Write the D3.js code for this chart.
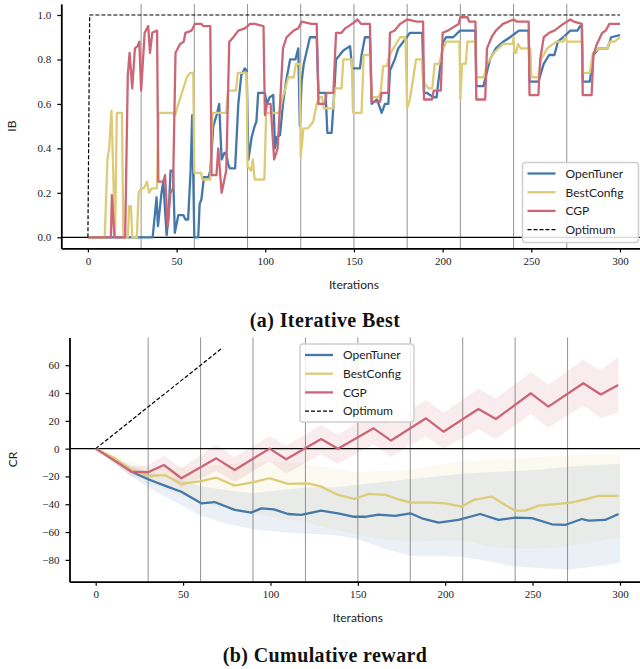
<!doctype html>
<html>
<head>
<meta charset="utf-8">
<title>Iterative Best / Cumulative reward</title>
<script src="https://cdn.jsdelivr.net/npm/d3@7"></script>
<style>
body{margin:0;background:#fff;}
svg{display:block;}
.tick text{font-family:"Liberation Serif",serif;font-size:11px;fill:#222;}
.lab{font-family:Lato,"Noto Sans",sans-serif;font-size:12px;fill:#222;}
.leg{font-family:Lato,"Noto Sans",sans-serif;font-size:12px;fill:#222;}
.title{font-family:"Liberation Serif",serif;font-weight:bold;font-size:20px;letter-spacing:0.4px;fill:#111;}
</style>
</head>
<body>
<script>
// --- data ---
var names = ['OpenTuner', 'BestConfig', 'CGP', 'Optimum'];
var colors = ['#4477aa', '#ddcc77', '#cc6677'];
var xTicks = [0, 50, 100, 150, 200, 250, 300];
var ibTicks = [0, 0.2, 0.4, 0.6, 0.8, 1.0];
var crTicks = [-80, -60, -40, -20, 0, 20, 40, 60];
var changeIters = [30, 60, 90, 120, 150, 180, 210, 240, 270];

// (a) iterative best, [iteration, IB]
var ibOpenTuner = [[0,0],[36.5,0],[38.7,0.18],[39.5,0.05],[41.5,0.2],[42.5,0.25],[44.4,0.01],[45.5,0.1],[46.6,0.3],[48,0.3],[49,0.02],[51,0.1],[53.8,0.1],[55,0.08],[56.5,0.08],[57.9,0.3],[58.8,0.55],[60,0],[62.2,0],[63,0.15],[64,0.17],[65.4,0.27],[68,0.27],[69,0.3],[70.7,0.5],[72.6,0.55],[74,0.6],[75.4,0.35],[77,0.38],[78,0.38],[79,0.33],[80,0.31],[83,0.31],[84.8,0.6],[86.5,0.73],[88.5,0.76],[89.5,0.75],[90.5,0.35],[92.3,0.45],[94,0.5],[95,0.52],[96,0.65],[99.8,0.65],[100.8,0.6],[102.5,0.63],[104.5,0.64],[105.5,0.4],[106.5,0.45],[108.3,0.46],[110,0.6],[111.7,0.7],[114,0.8],[117,0.8],[118.6,0.85],[119.5,0.5],[120.5,0.7],[121.7,0.78],[125.2,0.9],[129,0.9],[130,0.65],[134,0.65],[135,0.47],[137.4,0.47],[138.5,0.6],[139.9,0.8],[142,0.82],[144,0.84],[147.8,0.86],[149,0.76],[153.4,0.76],[154.3,0.82],[156.2,0.9],[159,0.9],[160,0.6],[163,0.62],[165.6,0.56],[167.5,0.6],[169.4,0.6],[170.3,0.75],[173,0.8],[175,0.85],[179.7,0.9],[181.6,0.92],[188.5,0.92],[189.5,0.65],[191,0.65],[194.8,0.63],[196.6,0.63],[197.6,0.7],[200.4,0.88],[202,0.9],[206,0.9],[209.8,0.93],[218.5,0.93],[219,0.68],[223,0.68],[226.7,0.8],[230,0.85],[234.2,0.88],[238,0.9],[243,0.93],[248.5,0.93],[249,0.7],[254,0.7],[257,0.78],[260,0.82],[263,0.82],[265,0.88],[268,0.9],[272,0.93],[276,0.93],[277.5,0.95],[278.5,0.95],[279,0.7],[283,0.7],[285,0.82],[288,0.85],[293,0.85],[295,0.9],[300,0.91]];
var ibBestConfig = [[0,0],[9.5,0],[11,0.35],[12,0.4],[13.3,0.57],[15.3,0],[16.3,0.56],[19.2,0.56],[20,0],[22.5,0],[23.3,0.14],[24.3,0.14],[25,0],[27.6,0],[28.6,0.2],[30,0.22],[31.5,0.22],[33.3,0.25],[34.5,0.2],[36,0.22],[38.9,0.22],[39.8,0.56],[47.4,0.56],[49.2,0.55],[51,0.6],[53,0.65],[55.8,0.72],[57.7,0.74],[59.4,0.74],[60,0.29],[63.8,0.29],[64.5,0.26],[69,0.26],[70.3,0.56],[78,0.56],[79,0.66],[83.5,0.66],[84.5,0.74],[89.5,0.74],[90,0.32],[92,0.3],[93,0.35],[94,0.26],[99.5,0.26],[100.5,0.56],[108,0.56],[109.8,0.63],[111,0.66],[113,0.72],[116,0.72],[117.3,0.78],[119.5,0.78],[120,0.36],[121.5,0.49],[124,0.49],[127,0.52],[129,0.6],[130.5,0.63],[132,0.63],[133,0.58],[138.3,0.58],[139.3,0.67],[143,0.67],[144,0.8],[148.7,0.8],[149.5,0.56],[154.3,0.56],[155.5,0.82],[159,0.82],[160,0.63],[163.7,0.63],[165,0.65],[166.5,0.77],[168.5,0.77],[170,0.82],[173,0.86],[176,0.9],[179,0.9],[180,0.58],[181.5,0.62],[183.5,0.72],[185,0.8],[188.2,0.8],[189,0.7],[192,0.67],[194.2,0.67],[195.5,0.78],[198,0.78],[200,0.84],[202,0.88],[209.5,0.88],[210,0.62],[211,0.78],[213,0.78],[214,0.88],[218.5,0.88],[219,0.72],[223.3,0.72],[225,0.78],[229,0.83],[234,0.87],[239.5,0.87],[240,0.9],[240.5,0.83],[241.5,0.83],[242.5,0.87],[244,0.85],[249.5,0.85],[250,0.72],[254,0.72],[255.5,0.8],[259,0.85],[264,0.88],[268,0.88],[269,0.9],[270,0.88],[278.5,0.88],[279,0.74],[283,0.74],[284.8,0.83],[288,0.85],[293,0.85],[294,0.88],[297,0.88],[300,0.9]];
var ibCGP = [[0,0],[13,0],[13.5,0.19],[15,0],[21,0],[22.5,0.73],[23.5,0.83],[25,0.67],[26.5,0.85],[28,0.86],[29,0.88],[30,0.66],[32,0.92],[34,0.95],[35,0.83],[36.3,0.92],[39,0.93],[39.7,0.25],[42.5,0.25],[43.5,0.28],[45,0.05],[46.5,0.2],[48,0.22],[49.4,0.83],[52,0.87],[54,0.88],[55,0.92],[58.5,0.93],[60.3,0.96],[64,0.96],[65,0.95],[69,0.95],[69.7,0.28],[72.5,0.28],[73.5,0.4],[75.4,0.2],[78,0.3],[79.7,0.88],[82,0.9],[84.8,0.93],[88.5,0.94],[91.4,0.96],[94,0.96],[99,0.95],[99.8,0.55],[101,0.6],[103,0.6],[105,0.35],[107,0.4],[110,0.85],[112,0.9],[116,0.93],[118.6,0.94],[120.5,0.97],[126,0.96],[129,0.96],[130,0.6],[133.7,0.6],[134.5,0.65],[138.4,0.65],[139.9,0.92],[143,0.92],[145,0.94],[147,0.95],[150.6,0.97],[152,0.98],[154,0.96],[159,0.96],[160,0.61],[164.7,0.61],[165.6,0.65],[169.4,0.65],[170.3,0.92],[173,0.93],[176,0.96],[180,0.98],[185.3,0.97],[189,0.97],[189.5,0.62],[194,0.62],[195,0.66],[199,0.66],[200,0.92],[203,0.93],[205,0.94],[209,0.96],[210,0.99],[214,0.99],[215,0.97],[218.5,0.97],[219,0.62],[224,0.62],[225,0.85],[227.6,0.9],[230,0.93],[234,0.96],[240,0.98],[242,0.97],[248.5,0.97],[249,0.64],[254,0.64],[255,0.8],[257,0.9],[260,0.92],[263,0.93],[268,0.96],[272,0.98],[274,0.97],[278.5,0.96],[279,0.64],[284,0.64],[285,0.82],[287,0.87],[290,0.92],[292,0.93],[294,0.96],[300,0.96]];
var ibOptimum = [[0,0],[1,1],[300,1]];

// (b) cumulative reward, mean [iteration, CR]
var crOpenTuner = [[0,0],[10.9,-8.1],[20.4,-16.5],[30,-22],[41,-27.3],[49,-31],[60.4,-39.3],[68,-38.4],[79.5,-44],[89,-46],[94.7,-43],[102,-43.7],[110,-47],[117.6,-47.7],[129,-44.6],[138.6,-46.5],[148,-49],[154,-49],[161.9,-47.5],[171.4,-48.4],[180,-46.5],[186.6,-50.1],[196.2,-53.2],[207.6,-51.3],[220,-47],[230.5,-51.3],[240,-49.6],[249.6,-50],[261,-54.4],[268.6,-54.9],[278.2,-50.6],[282,-51.8],[291.5,-51.3],[299.2,-47]];
var crBestConfig = [[0,0],[10.9,-7],[20.4,-15.3],[30,-19.7],[39.5,-19],[49,-25.4],[60.4,-23.3],[69,-20.9],[79.5,-26.6],[89,-24.5],[99.5,-21.3],[110,-25.4],[121.5,-25],[129,-27.3],[138.6,-33.3],[148,-36.2],[156,-32.6],[165.7,-33.3],[171.4,-35.7],[180,-38.8],[192.4,-38.8],[200,-39.3],[209.5,-41.7],[216.2,-36.9],[226.7,-34.5],[234.3,-40.5],[240,-44.6],[245.8,-44.6],[253.4,-41],[264.8,-39.8],[272.5,-38.6],[280,-36.5],[287.7,-34],[299.2,-34]];
var crCGP = [[0,0],[10,-8],[20.4,-16.5],[30,-17],[39,-11.8],[49,-21.3],[69,-7],[79.5,-15.3],[99.5,0],[109,-7.7],[129,7],[138.6,0],[159,14.6],[169,5.8],[189,21.8],[199,12.2],[219,28.5],[229,21.3],[249,39.8],[259,30.2],[279,47],[289,39],[299,45.8]];
var crOptimum = [[0,0],[72,72]];

// (b) shaded spread, [iteration, low, high]
var bandOpenTuner = [[0,0,0],[15,-15,-9],[30,-28,-17],[45,-38,-21],[60,-48,-27],[75,-54,-30],[90,-58,-32],[105,-60,-30],[120,-61,-28],[135,-62,-28],[150,-65,-26],[165,-72,-24],[180,-77,-22],[195,-77,-20],[210,-78,-18],[225,-81,-17],[240,-85,-16],[255,-86,-15],[270,-87,-13],[285,-85,-12],[300,-82,-11]];
var bandBestConfig = [[0,0,0],[15,-13,-6],[30,-25,-14],[45,-32,-14],[60,-38,-13],[75,-43,-11],[90,-46,-10],[105,-50,-9],[120,-53,-11],[135,-58,-14],[150,-62,-17],[165,-65,-16],[180,-67,-15],[195,-66,-12],[210,-66,-9],[225,-70,-8],[240,-72,-7],[255,-72,-6],[270,-70,-5],[285,-67,-4],[300,-64,-4]];
var bandCGP = [[0,0,0],[10,-10,-6],[20.4,-20,-13],[30,-22,-12],[39,-18,-5],[49,-28,-14],[69,-16,3],[79.5,-24,-6],[99.5,-9,9],[109,-18,2],[129,-4,17],[138.6,-11,10],[159,3,26],[169,-6,18],[189,9,35],[199,0,26],[219,14,43],[229,7,36],[249,25,55],[259,15,46],[279,31,64],[289,22,56],[299,26,66]];

var W = 640, H = 669;
var svg = d3.select('body').append('svg')
    .attr('width', W)
    .attr('height', H);

function drawPanel(cfg){
    var x = d3.scaleLinear().domain([-15, 315]).range([cfg.left, cfg.right]);
    var y = d3.scaleLinear().domain(cfg.yDomain).range([cfg.bottom, cfg.top]);
    var g = svg.append('g');

    // spread bands
    (cfg.bands || []).forEach(function(b, i){
        g.append('path')
            .datum(b)
            .attr('d', d3.area()
                .x(function(d){ return x(d[0]); })
                .y0(function(d){ return y(d[1]); })
                .y1(function(d){ return y(d[2]); }))
            .attr('fill', colors[i])
            .attr('fill-opacity', i == 2 ? 0.12 : 0.11);
    });

    // regime changes
    g.selectAll('line.chg').data(changeIters).enter().append('line')
        .attr('class', 'chg')
        .attr('x1', function(d){ return x(d); })
        .attr('x2', function(d){ return x(d); })
        .attr('y1', cfg.top).attr('y2', cfg.bottom)
        .attr('stroke', '#707070').attr('stroke-opacity', 0.75).attr('stroke-width', 1);

    g.append('line')
        .attr('x1', cfg.left).attr('x2', cfg.right)
        .attr('y1', y(0)).attr('y2', y(0))
        .attr('stroke', '#000').attr('stroke-width', 1.2);

    var line = d3.line()
        .x(function(d){ return x(d[0]); })
        .y(function(d){ return y(d[1]); });

    cfg.series.forEach(function(s, i){
        g.append('path')
            .datum(s)
            .attr('d', line)
            .attr('fill', 'none')
            .attr('stroke', colors[i])
            .attr('stroke-width', 2.3)
            .attr('stroke-linejoin', 'round');
    });
    g.append('path')
        .datum(cfg.optimum)
        .attr('d', line)
        .attr('fill', 'none')
        .attr('stroke', '#000')
        .attr('stroke-width', 1.2)
        .attr('stroke-dasharray', '4,2');

    // axes
    var ax = g.append('g')
        .attr('transform', 'translate(0,' + cfg.bottom + ')')
        .call(d3.axisBottom(x).tickValues(xTicks).tickSize(4).tickPadding(5).tickSizeOuter(0));
    var ay = g.append('g')
        .attr('transform', 'translate(' + cfg.left + ',0)')
        .call(d3.axisLeft(y).tickValues(cfg.yTicks).tickFormat(cfg.yFormat).tickSize(4).tickPadding(6).tickSizeOuter(0));
    [ax, ay].forEach(function(a){
        a.select('.domain').attr('stroke', '#000').attr('stroke-width', 1.8);
        a.selectAll('.tick line').attr('stroke', '#000').attr('stroke-width', 1.2);
    });

    g.append('text').attr('class', 'lab')
        .attr('x', (cfg.left + cfg.right) / 2).attr('y', cfg.xLabelY)
        .attr('text-anchor', 'middle').text('Iterations');
    g.append('text').attr('class', 'lab')
        .attr('transform', 'translate(' + cfg.yLabelX + ',' + (cfg.top + cfg.bottom) / 2 + ') rotate(-90)')
        .attr('text-anchor', 'middle').text(cfg.yLabel);

    // legend
    var L = cfg.legend;
    var lg = g.append('g').attr('transform', 'translate(' + L.x + ',' + L.y + ')');
    lg.append('rect')
        .attr('width', L.w).attr('height', L.h)
        .attr('rx', 3)
        .attr('fill', '#fff').attr('fill-opacity', 0.85)
        .attr('stroke', '#d0d0d0').attr('stroke-width', 1.5);
    names.forEach(function(n, i){
        var yy = 11 + i * 18.7;
        lg.append('line')
            .attr('x1', 5).attr('x2', 33)
            .attr('y1', yy).attr('y2', yy)
            .attr('stroke', i < 3 ? colors[i] : '#000')
            .attr('stroke-width', i < 3 ? 2.3 : 1.2)
            .attr('stroke-dasharray', i < 3 ? null : '4,2');
        lg.append('text').attr('class', 'leg')
            .attr('x', 43).attr('y', yy + 4.3).text(n);
    });

    svg.append('text').attr('class', 'title')
        .attr('x', 325).attr('y', cfg.titleY)
        .attr('text-anchor', 'middle').text(cfg.title);
}

drawPanel({
    left: 61.3, right: 646.6, top: 3.9, bottom: 248.4,
    yDomain: [-0.05, 1.05], yTicks: ibTicks, yFormat: d3.format('.1f'),
    series: [ibOpenTuner, ibBestConfig, ibCGP], optimum: ibOptimum,
    xLabelY: 289, yLabel: 'IB', yLabelX: 16,
    legend: {x: 522.5, y: 162.5, w: 116, h: 80},
    title: '(a) Iterative Best', titleY: 327
});

drawPanel({
    left: 69.5, right: 646.2, top: 337.4, bottom: 581.7,
    yDomain: [-95.7, 80], yTicks: crTicks, yFormat: d3.format('d'),
    series: [crOpenTuner, crBestConfig, crCGP], optimum: crOptimum,
    bands: [bandOpenTuner, bandBestConfig, bandCGP],
    xLabelY: 622, yLabel: 'CR', yLabelX: 17,
    legend: {x: 300, y: 344, w: 114, h: 78},
    title: '(b) Cumulative reward', titleY: 662
});
</script>
</body>
</html>
